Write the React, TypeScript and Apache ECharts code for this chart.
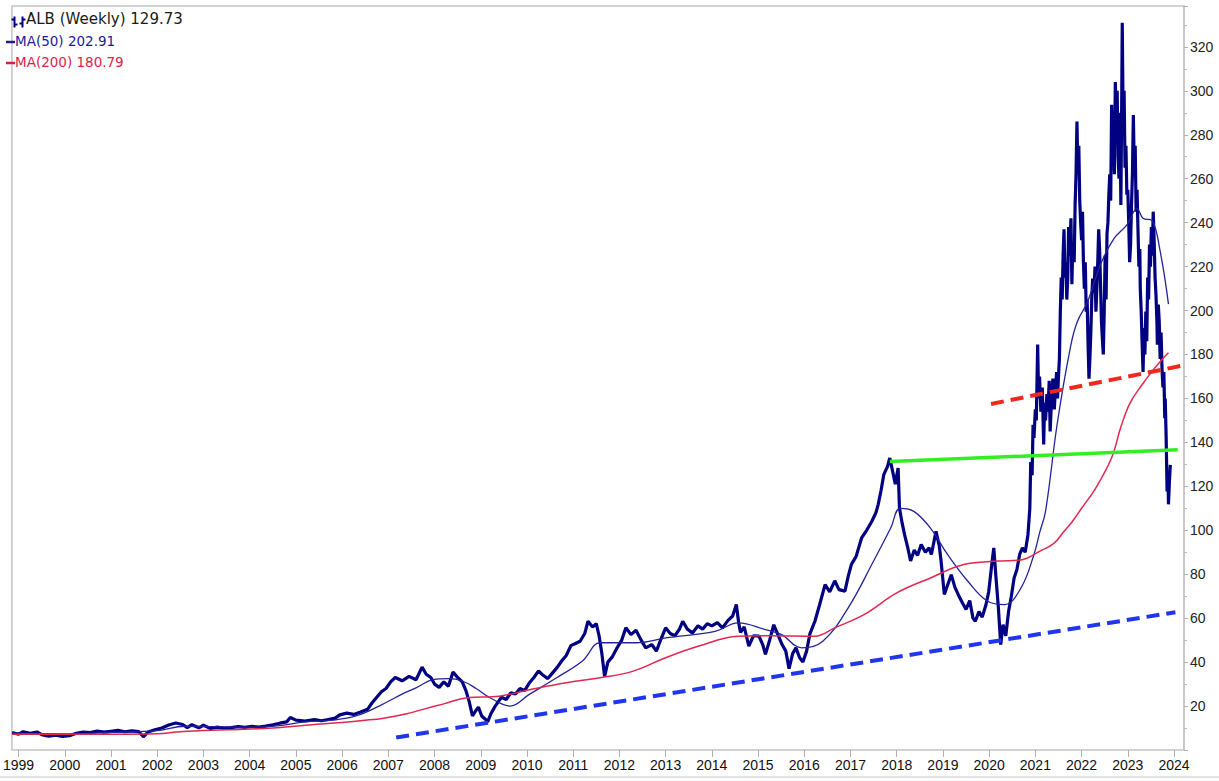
import React, { useEffect, useRef } from "react";
import * as echarts from "echarts";

// Year tick labels on the time axis
const yearTicks = [1999, 2000, 2001, 2002, 2003, 2004, 2005, 2006, 2007, 2008, 2009, 2010, 2011, 2012, 2013, 2014, 2015, 2016, 2017, 2018, 2019, 2020, 2021, 2022, 2023, 2024];

// ALB weekly price path [decimal year, price]
const priceData: [number, number][] = [
  [1998.86, 8.0], [1999.0, 7.2], [1999.1, 8.3], [1999.25, 7.6], [1999.4, 8.2], [1999.5, 7.0], [1999.65, 6.3], [1999.8, 6.8], [1999.95, 6.2],
  [2000.1, 6.5], [2000.25, 7.6], [2000.4, 8.2], [2000.55, 7.9], [2000.7, 8.6], [2000.85, 8.1], [2001.0, 8.5], [2001.15, 8.9], [2001.3, 8.3],
  [2001.45, 8.7], [2001.6, 8.4], [2001.7, 6.0], [2001.8, 8.2], [2001.95, 9.2], [2002.1, 10.0], [2002.25, 11.4], [2002.4, 12.3], [2002.55, 11.6],
  [2002.65, 10.2], [2002.75, 11.5], [2002.9, 10.1], [2003.0, 11.3], [2003.15, 9.8], [2003.3, 10.4], [2003.45, 9.9], [2003.6, 10.2], [2003.75, 10.6],
  [2003.9, 10.3], [2004.05, 10.8], [2004.2, 10.4], [2004.35, 10.9], [2004.5, 11.5], [2004.65, 12.2], [2004.8, 12.8], [2004.88, 14.8], [2005.0, 13.6],
  [2005.2, 13.2], [2005.4, 13.8], [2005.55, 13.3], [2005.7, 13.9], [2005.85, 14.5], [2005.95, 16.0], [2006.1, 16.8], [2006.25, 16.2], [2006.4, 17.3],
  [2006.55, 18.5], [2006.65, 21.5], [2006.75, 24.0], [2006.85, 26.5], [2006.95, 28.0], [2007.05, 31.0], [2007.15, 33.0], [2007.3, 31.5], [2007.45, 33.5],
  [2007.6, 32.0], [2007.73, 37.7], [2007.82, 34.5], [2007.92, 33.0], [2008.0, 30.0], [2008.1, 28.5], [2008.2, 31.0], [2008.3, 29.0], [2008.4, 35.5],
  [2008.5, 33.0], [2008.6, 31.0], [2008.68, 27.0], [2008.75, 22.0], [2008.82, 15.5], [2008.88, 17.5], [2008.95, 19.5], [2009.02, 15.5], [2009.1, 14.0],
  [2009.15, 12.8], [2009.22, 16.5], [2009.3, 19.5], [2009.38, 22.0], [2009.45, 24.0], [2009.55, 23.0], [2009.65, 26.0], [2009.75, 25.5], [2009.85, 28.0],
  [2009.95, 27.0], [2010.05, 30.5], [2010.15, 33.0], [2010.25, 36.0], [2010.35, 34.0], [2010.45, 32.5], [2010.55, 35.0], [2010.65, 37.5], [2010.75, 40.5],
  [2010.85, 43.0], [2010.95, 47.5], [2011.05, 48.5], [2011.15, 49.5], [2011.25, 53.0], [2011.32, 58.6], [2011.42, 56.0], [2011.5, 57.5], [2011.56, 52.0],
  [2011.62, 44.0], [2011.68, 33.5], [2011.75, 40.0], [2011.85, 42.5], [2011.95, 46.5], [2012.05, 50.0], [2012.14, 55.6], [2012.25, 52.5], [2012.36, 54.5],
  [2012.47, 50.0], [2012.57, 46.5], [2012.7, 48.0], [2012.8, 45.0], [2012.9, 50.5], [2013.0, 55.6], [2013.1, 53.0], [2013.2, 52.0], [2013.3, 55.0],
  [2013.37, 58.6], [2013.47, 55.0], [2013.58, 53.3], [2013.7, 56.5], [2013.8, 55.0], [2013.9, 57.5], [2014.0, 56.5], [2014.12, 58.0], [2014.23, 55.6],
  [2014.35, 59.0], [2014.45, 61.0], [2014.53, 66.2], [2014.58, 58.0], [2014.62, 53.5], [2014.7, 56.0], [2014.8, 47.3], [2014.9, 52.0], [2015.02, 51.8],
  [2015.1, 48.0], [2015.16, 43.5], [2015.25, 50.0], [2015.34, 57.0], [2015.42, 53.0], [2015.52, 48.0], [2015.6, 45.0], [2015.67, 37.0], [2015.75, 44.0],
  [2015.82, 46.5], [2015.9, 42.0], [2015.97, 40.0], [2016.05, 45.0], [2016.12, 52.7], [2016.23, 58.6], [2016.33, 66.0], [2016.45, 75.3], [2016.55, 72.0],
  [2016.66, 77.0], [2016.75, 73.0], [2016.88, 72.3], [2016.95, 79.0], [2017.02, 84.5], [2017.12, 88.0], [2017.24, 96.5], [2017.35, 100.0], [2017.46, 104.0],
  [2017.55, 108.0], [2017.6, 111.8], [2017.66, 118.0], [2017.72, 125.3], [2017.8, 129.0], [2017.85, 132.9], [2017.92, 126.0], [2017.97, 121.0], [2018.03, 128.3],
  [2018.06, 110.0], [2018.12, 103.0], [2018.17, 98.0], [2018.24, 92.0], [2018.3, 86.0], [2018.38, 91.0], [2018.45, 88.5], [2018.53, 93.5], [2018.62, 90.0],
  [2018.7, 92.0], [2018.75, 89.0], [2018.85, 99.5], [2018.92, 93.0], [2018.96, 86.0], [2019.03, 70.8], [2019.1, 75.0], [2019.18, 79.8], [2019.26, 74.0],
  [2019.33, 70.8], [2019.42, 67.0], [2019.5, 64.0], [2019.58, 68.0], [2019.65, 60.0], [2019.7, 58.6], [2019.78, 63.0], [2019.85, 60.5], [2019.93, 66.0],
  [2019.99, 72.0], [2020.06, 85.0], [2020.1, 92.0], [2020.15, 78.0], [2020.2, 64.7], [2020.25, 48.0], [2020.3, 57.0], [2020.36, 52.0], [2020.42, 63.0],
  [2020.48, 70.0], [2020.54, 78.3], [2020.6, 82.0], [2020.66, 89.0], [2020.72, 92.0], [2020.78, 90.0], [2020.84, 98.0], [2020.88, 110.0], [2020.9, 131.0],
  [2020.93, 125.0], [2020.95, 148.0], [2020.97, 142.0], [2021.0, 155.0], [2021.02, 150.0], [2021.05, 184.5], [2021.07, 160.0], [2021.09, 170.0], [2021.12, 154.0],
  [2021.15, 165.0], [2021.18, 139.0], [2021.2, 158.0], [2021.22, 150.0], [2021.25, 162.0], [2021.27, 154.0], [2021.3, 168.0], [2021.32, 145.0], [2021.35, 160.0],
  [2021.38, 169.0], [2021.41, 155.0], [2021.43, 163.0], [2021.46, 172.0], [2021.48, 160.0], [2021.5, 170.0], [2021.52, 178.0], [2021.54, 199.5], [2021.56, 215.0],
  [2021.58, 205.0], [2021.6, 225.0], [2021.62, 237.0], [2021.64, 215.0], [2021.66, 222.0], [2021.68, 205.0], [2021.7, 214.5], [2021.72, 238.0], [2021.74, 225.0],
  [2021.77, 242.0], [2021.79, 212.0], [2021.81, 230.0], [2021.84, 222.0], [2021.86, 248.0], [2021.88, 262.0], [2021.9, 286.0], [2021.92, 262.0], [2021.94, 275.0],
  [2021.96, 250.0], [2021.98, 240.0], [2022.0, 232.0], [2022.02, 245.0], [2022.04, 222.0], [2022.06, 210.0], [2022.08, 222.0], [2022.1, 199.5], [2022.12, 205.0],
  [2022.14, 185.0], [2022.16, 169.0], [2022.18, 178.0], [2022.2, 190.0], [2022.22, 205.0], [2022.24, 214.5], [2022.27, 208.0], [2022.29, 220.0], [2022.31, 199.5],
  [2022.33, 210.0], [2022.35, 222.0], [2022.37, 237.0], [2022.39, 228.0], [2022.41, 212.0], [2022.43, 195.0], [2022.45, 187.0], [2022.47, 180.0], [2022.49, 200.0],
  [2022.51, 225.0], [2022.53, 205.0], [2022.55, 235.0], [2022.57, 240.0], [2022.59, 252.7], [2022.61, 262.0], [2022.63, 250.0], [2022.65, 293.6], [2022.67, 275.0],
  [2022.69, 285.0], [2022.71, 262.0], [2022.73, 304.0], [2022.75, 288.0], [2022.77, 300.0], [2022.79, 270.0], [2022.81, 260.0], [2022.83, 290.0], [2022.85, 248.0],
  [2022.87, 300.0], [2022.88, 331.0], [2022.9, 285.0], [2022.92, 300.0], [2022.94, 265.0], [2022.96, 275.0], [2022.98, 252.7], [2023.0, 255.0], [2023.02, 240.0],
  [2023.04, 222.0], [2023.06, 230.0], [2023.08, 248.0], [2023.1, 262.0], [2023.12, 289.0], [2023.14, 265.0], [2023.16, 275.0], [2023.18, 245.0], [2023.2, 255.0],
  [2023.22, 237.0], [2023.24, 220.0], [2023.26, 228.0], [2023.27, 210.0], [2023.29, 199.5], [2023.31, 185.0], [2023.33, 172.0], [2023.35, 192.0], [2023.37, 180.0],
  [2023.39, 199.5], [2023.41, 186.0], [2023.43, 215.0], [2023.45, 205.0], [2023.47, 230.0], [2023.49, 220.0], [2023.51, 238.0], [2023.53, 225.0], [2023.55, 245.0],
  [2023.57, 232.0], [2023.59, 215.0], [2023.61, 207.0], [2023.63, 195.0], [2023.64, 184.5], [2023.66, 202.7], [2023.68, 195.0], [2023.7, 178.0], [2023.72, 190.0],
  [2023.74, 173.6], [2023.76, 165.0], [2023.78, 172.0], [2023.8, 151.0], [2023.81, 160.0], [2023.83, 142.0], [2023.85, 117.7], [2023.87, 125.0], [2023.88, 111.8],
  [2023.9, 122.0], [2023.92, 129.73],
];

// 50-week moving average
const ma50Data: [number, number][] = [
  [1998.86, 7.8], [2000.0, 7.3], [2001.0, 8.0], [2002.0, 8.8], [2002.6, 10.8], [2003.2, 10.6], [2004.0, 10.4], [2004.6, 11.0], [2005.2, 12.8],
  [2005.8, 13.6], [2006.3, 15.5], [2006.8, 20.0], [2007.35, 26.0], [2007.6, 28.3], [2007.97, 32.0], [2008.3, 32.5], [2008.6, 31.4], [2008.9, 28.0],
  [2009.2, 23.8], [2009.64, 20.0], [2010.05, 25.3], [2010.65, 33.0], [2011.2, 40.5], [2011.58, 48.8], [2011.95, 48.8], [2012.36, 48.8], [2013.0, 51.0],
  [2014.07, 54.0], [2014.57, 57.9], [2015.16, 54.8], [2015.5, 52.6], [2015.95, 46.5], [2016.4, 49.5], [2016.95, 64.7], [2017.5, 86.0], [2017.87, 101.0],
  [2018.08, 110.0], [2018.37, 108.6], [2018.73, 101.0], [2019.1, 89.0], [2019.54, 76.8], [2019.97, 67.7], [2020.33, 66.2], [2020.69, 73.8], [2020.97, 89.0],
  [2021.1, 99.5], [2021.22, 108.6], [2021.48, 149.5], [2021.77, 184.5], [2021.91, 195.0], [2022.13, 204.0], [2022.41, 221.0], [2022.7, 232.7], [2022.98, 239.0],
  [2023.2, 246.4], [2023.33, 242.0], [2023.52, 241.0], [2023.7, 227.0], [2023.88, 202.91],
];

// 200-week moving average
const ma200Data: [number, number][] = [
  [1998.86, 7.2], [2001.0, 7.2], [2002.0, 7.4], [2002.5, 8.3], [2003.5, 9.2], [2004.5, 10.0], [2005.3, 11.4], [2006.0, 12.5], [2006.5, 13.5],
  [2006.9, 14.5], [2007.4, 16.5], [2007.75, 18.5], [2008.2, 21.0], [2008.7, 23.8], [2009.4, 24.5], [2010.1, 27.6], [2010.85, 30.6], [2011.58, 32.9],
  [2012.3, 35.9], [2013.0, 42.0], [2013.72, 47.3], [2014.57, 51.8], [2015.3, 52.0], [2016.23, 51.8], [2016.66, 55.6], [2017.3, 61.7], [2018.0, 71.5],
  [2018.73, 78.3], [2019.45, 84.4], [2020.19, 86.0], [2020.69, 86.5], [2021.1, 90.5], [2021.4, 94.0], [2021.6, 99.0], [2021.8, 104.0], [2022.0, 110.0],
  [2022.3, 119.0], [2022.65, 133.0], [2022.85, 147.0], [2023.05, 158.0], [2023.3, 166.0], [2023.55, 173.0], [2023.75, 178.0], [2023.88, 180.79],
];

// Drawn trend lines
const blueTrend: [number, number][] = [[2007.17, 5.7], [2024.03, 62.7]];
const redTrend: [number, number][] = [[2020.04, 157.5], [2024.27, 175.3]];
const greenLine: [number, number][] = [[2017.85, 131.3], [2024.08, 136.6]];

const legendTitle = "ALB (Weekly) 129.73";
const legendMa50 = "MA(50) 202.91";
const legendMa200 = "MA(200) 180.79";

export default function App() {
  const ref = useRef<HTMLDivElement>(null);
  useEffect(() => {
    if (!ref.current) return;
    const chart = echarts.init(ref.current, null, { renderer: "svg" });
    const navy = "#000080";
    chart.setOption({
      animation: false,
      backgroundColor: "#ffffff",
      grid: { left: 6, right: 35, top: 6, bottom: 31, show: true, borderColor: "#c4c4c4", borderWidth: 1.5, backgroundColor: "transparent" },
      xAxis: {
        type: "value",
        min: 1998.856,
        max: 2024.216,
        axisLine: { show: false },
        splitLine: { show: false },
        axisTick: { show: true, customValues: yearTicks, length: 7, lineStyle: { color: "#b0b0b0" } },
        axisLabel: {
          customValues: yearTicks,
          formatter: (v: number) => String(Math.round(v)),
          color: "#111",
          fontFamily: "Liberation Sans, Arial, sans-serif",
          fontSize: 14,
          margin: 8,
        },
      },
      yAxis: {
        type: "value",
        position: "right",
        min: 0,
        max: 338.6,
        interval: 20,
        splitLine: { show: false },
        axisLine: { show: true, lineStyle: { color: "#c4c4c4", width: 1.5 } },
        axisTick: { show: true, length: 4, lineStyle: { color: "#b0b0b0" } },
        minorTick: { show: true, splitNumber: 2, length: 3, lineStyle: { color: "#b8b8b8" } },
        axisLabel: {
          showMinLabel: false,
          showMaxLabel: false,
          color: "#222",
          fontFamily: "Liberation Sans, Arial, sans-serif",
          fontSize: 14,
          margin: 6,
        },
      },
      series: [
        { type: "line", data: priceData, showSymbol: false, lineStyle: { color: navy, width: 3.2 }, z: 2 },
        { type: "line", data: ma50Data, showSymbol: false, smooth: 0.4, lineStyle: { color: "#23239c", width: 1.3 }, z: 3 },
        { type: "line", data: ma200Data, showSymbol: false, smooth: 0.4, lineStyle: { color: "#e0284f", width: 1.5 }, z: 3 },
        { type: "line", data: blueTrend, showSymbol: false, lineStyle: { color: "#2036ee", width: 4, type: [13, 7] }, z: 4 },
        { type: "line", data: redTrend, showSymbol: false, clip: false, lineStyle: { color: "#f0281e", width: 4, type: [13, 7] }, z: 4 },
        { type: "line", data: greenLine, showSymbol: false, lineStyle: { color: "#33ee22", width: 3.5 }, z: 4 },
      ],
      graphic: [
        { type: "line", shape: { x1: 0, y1: 777, x2: 1219, y2: 777 }, style: { stroke: "#d8d8d8", lineWidth: 1.5 } },
        // OHLC legend icon
        {
          type: "group",
          left: 9,
          top: 14,
          children: [
            { type: "line", shape: { x1: 3, y1: 0, x2: 3, y2: 11 }, style: { stroke: navy, lineWidth: 2 } },
            { type: "line", shape: { x1: 0, y1: 3, x2: 3, y2: 3 }, style: { stroke: navy, lineWidth: 2 } },
            { type: "line", shape: { x1: 3, y1: 8, x2: 6, y2: 8 }, style: { stroke: navy, lineWidth: 2 } },
            { type: "line", shape: { x1: 11, y1: 0, x2: 11, y2: 11 }, style: { stroke: navy, lineWidth: 2 } },
            { type: "line", shape: { x1: 8, y1: 7, x2: 11, y2: 7 }, style: { stroke: navy, lineWidth: 2 } },
            { type: "line", shape: { x1: 11, y1: 3, x2: 14, y2: 3 }, style: { stroke: navy, lineWidth: 2 } },
          ],
        },
        { type: "text", left: 26, top: 11, style: { text: legendTitle, fill: "#1a1a1a", font: "15px 'DejaVu Sans', sans-serif" } },
        { type: "line", shape: { x1: 6, y1: 42, x2: 15, y2: 42 }, style: { stroke: "#1c1c96", lineWidth: 2.5 } },
        { type: "text", left: 15, top: 34, style: { text: legendMa50, fill: "#1c1c96", font: "13.5px 'DejaVu Sans', sans-serif" } },
        { type: "line", shape: { x1: 6, y1: 63, x2: 15, y2: 63 }, style: { stroke: "#d81e4c", lineWidth: 2.5 } },
        { type: "text", left: 15, top: 55, style: { text: legendMa200, fill: "#d81e4c", font: "13.5px 'DejaVu Sans', sans-serif" } },
      ],
    });
    return () => chart.dispose();
  }, []);
  return <div ref={ref} style={{ position: "fixed", left: 0, top: 0, width: 1219, height: 781 }} />;
}
